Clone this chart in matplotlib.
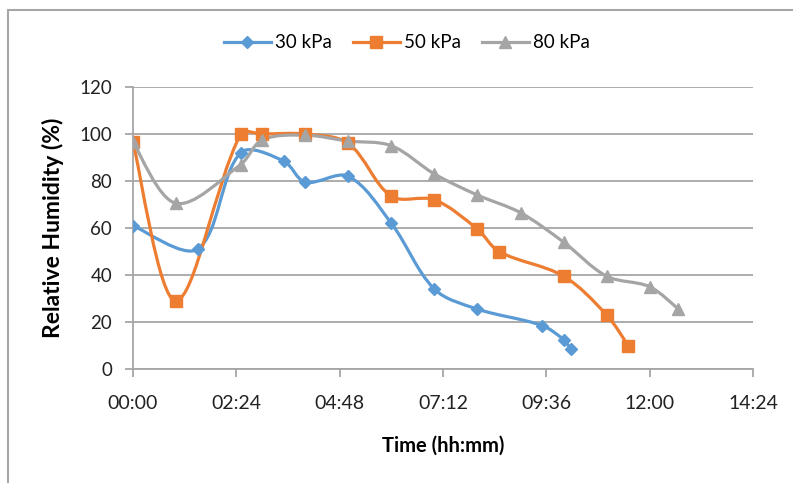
import matplotlib
matplotlib.use("Agg")
import matplotlib.pyplot as plt
import numpy as np
from matplotlib.lines import Line2D
from matplotlib.patches import PathPatch, Rectangle
from matplotlib.path import Path
from matplotlib.ticker import FuncFormatter, MultipleLocator

plt.rcParams["font.family"] = ["Lato", "DejaVu Sans"]

# time in minutes since start, relative humidity in %
t_30 = [0, 90, 150, 210, 240, 300, 360, 420, 480, 570, 600, 610]
rh_30 = [61, 51, 92, 88.5, 79.5, 82, 62, 34, 25.5, 18.5, 12.5, 8.5]

t_50 = [0, 60, 150, 180, 240, 300, 360, 420, 480, 510, 600, 660, 690]
rh_50 = [96.5, 29, 100, 100, 100, 96, 73.5, 72, 59.5, 50, 39.5, 23, 10]

t_80 = [0, 60, 150, 180, 240, 300, 360, 420, 480, 540, 600, 660, 720, 760]
rh_80 = [96.5, 70.5, 87, 97.5, 99.5, 97, 95, 83, 74, 66.5, 54, 39.5, 35, 25.5]

series = [
    ("30 kPa", t_30, rh_30, "#5B9BD5", "D", 6),
    ("50 kPa", t_50, rh_50, "#ED7D31", "s", 8),
    ("80 kPa", t_80, rh_80, "#A5A5A5", "^", 8),
]


def smooth_path(ax, x, y):
    # excel-like smoothed line; tangents weighted by on-screen segment lengths
    pts = ax.transData.transform(np.column_stack([x, y]).astype(float))
    n = len(pts)
    seg = np.hypot(*np.diff(pts, axis=0).T)
    verts = [pts[0]]
    codes = [Path.MOVETO]
    for i in range(n - 1):
        p0 = pts[max(i - 1, 0)]
        p1 = pts[i]
        p2 = pts[i + 1]
        p3 = pts[min(i + 2, n - 1)]
        d_prev = seg[i - 1] if i > 0 else seg[i]
        d_next = seg[i + 1] if i + 2 < n else seg[i]
        f1 = seg[i] / (d_prev + seg[i]) / 3
        f2 = seg[i] / (seg[i] + d_next) / 3
        verts += [p1 + (p2 - p0) * f1, p2 - (p3 - p1) * f2, p2]
        codes += [Path.CURVE4] * 3
    return Path(ax.transData.inverted().transform(np.array(verts)), codes)


fig = plt.figure(figsize=(7.93, 4.83), dpi=100)
fig.patches.append(
    Rectangle((8 / 793, -0.1), 1.2, 1 - 10 / 483 + 0.1, transform=fig.transFigure,
              fill=False, edgecolor="#A6A6A6", linewidth=1.5)
)
ax = fig.add_axes([133 / 793, 1 - 369 / 483, 620 / 793, 282 / 483])
ax.set_xlim(0, 864)
ax.set_ylim(0, 120)

handles = []
for label, t, rh, color, marker, ms in series:
    ax.add_patch(PathPatch(smooth_path(ax, t, rh), fill=False, edgecolor=color,
                           linewidth=2.3, zorder=3))
    ax.plot(t, rh, linestyle="none", marker=marker, markersize=ms,
            color=color, zorder=4)
    handles.append(Line2D([], [], color=color, linewidth=2.3, marker=marker,
                          markersize=ms))

ax.xaxis.set_major_locator(MultipleLocator(144))
ax.yaxis.set_major_locator(MultipleLocator(20))
ax.xaxis.set_major_formatter(FuncFormatter(lambda v, p: f"{int(v) // 60:02d}:{int(v) % 60:02d}"))

ax.grid(axis="y", color="#A6A6A6", linewidth=1.3)
ax.set_axisbelow(True)
for side in ["top", "right"]:
    ax.spines[side].set_visible(False)
for side in ["left", "bottom"]:
    ax.spines[side].set_color("#A6A6A6")
    ax.spines[side].set_linewidth(1.3)
ax.tick_params(axis="both", colors="#A6A6A6", length=6, width=1.3)
ax.tick_params(axis="y", labelcolor="#222222", labelsize=13.5, pad=9)
ax.tick_params(axis="x", labelcolor="#222222", labelsize=14, pad=13)

ax.set_xlabel("Time (hh:mm)", fontsize=14.5, fontweight="bold", labelpad=17)
ax.set_ylabel("Relative Humidity (%)", fontsize=16.5, fontweight="bold", labelpad=11)

fig.legend(handles, [s[0] for s in series], loc="center", ncol=3,
           bbox_to_anchor=(407 / 793, 1 - 43 / 483), frameon=False,
           fontsize=13.5, handlelength=2.5, handletextpad=0.25, columnspacing=1.1)

fig.savefig("out.png", dpi=100)
